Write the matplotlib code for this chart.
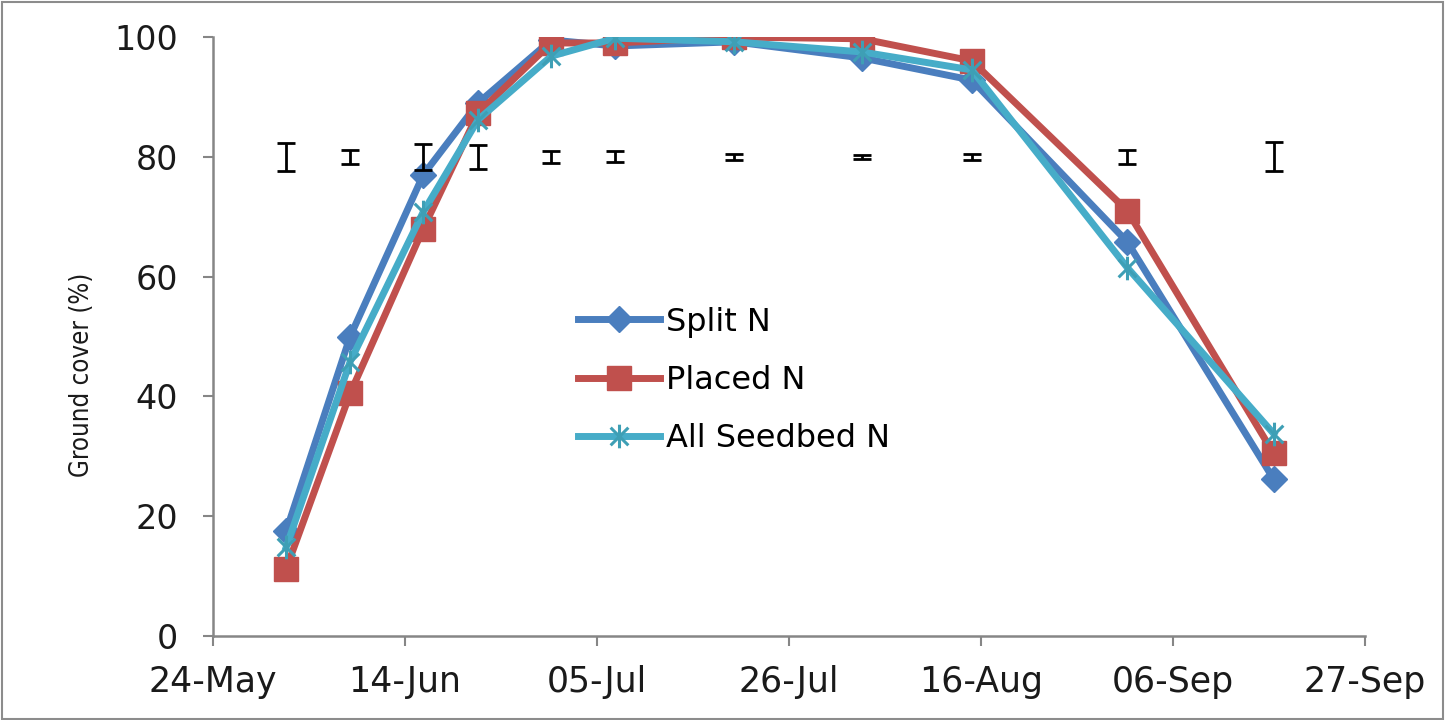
import datetime as dt
import numpy as np
import matplotlib
matplotlib.use("Agg")
import matplotlib.pyplot as plt
import matplotlib.dates as mdates
from matplotlib.path import Path
from matplotlib.patches import Rectangle

# Sampling dates (2012 season)
sample_dates = ["01-Jun", "08-Jun", "16-Jun", "22-Jun", "30-Jun", "07-Jul",
                "20-Jul", "03-Aug", "15-Aug", "01-Sep", "17-Sep"]

split_n = [17.5, 50.0, 77.0, 89.0, 99.5, 98.5, 99.2, 96.5, 92.8, 65.8, 26.2]
placed_n = [11.2, 40.5, 68.0, 87.3, 99.0, 99.0, 100.0, 99.7, 96.0, 71.0, 30.5]
seedbed_n = [14.8, 45.8, 70.8, 86.2, 96.8, 99.8, 99.2, 97.5, 94.5, 61.5, 33.8]

# Half-width of the LSD bars drawn at y = 80
lsd_half = [2.3, 1.2, 2.2, 2.0, 1.0, 0.9, 0.5, 0.3, 0.5, 1.2, 2.4]
lsd_level = 80

series_labels = ["Split N", "Placed N", "All Seedbed N"]
tick_labels = ["24-May", "14-Jun", "05-Jul", "26-Jul", "16-Aug", "06-Sep", "27-Sep"]
y_ticks = [0, 20, 40, 60, 80, 100]

YEAR = 2012
def to_date(s):
    return dt.datetime.strptime(f"{s}-{YEAR}", "%d-%b-%Y")

x = [to_date(s) for s in sample_dates]
x_ticks = [to_date(s) for s in tick_labels]

# Asterisk marker: vertical bar plus an X
star_path = Path(
    [(0, -1), (0, 1), (-0.75, -0.75), (0.75, 0.75), (-0.75, 0.75), (0.75, -0.75)],
    [Path.MOVETO, Path.LINETO, Path.MOVETO, Path.LINETO, Path.MOVETO, Path.LINETO],
)

blue = "#4A7EBE"
red = "#C0504D"
cyan = "#46ACC8"
grey = "#868686"

fig = plt.figure(figsize=(14.45, 7.2), dpi=100)
ax = fig.add_axes([213 / 1445, 84 / 720, 1152 / 1445, 599 / 720])

lw = 5.0
ax.plot(x, split_n, color=blue, lw=lw, marker="D", ms=13, mfc=blue, mec=blue,
        label=series_labels[0], zorder=3)
ax.plot(x, placed_n, color=red, lw=lw, marker="s", ms=17, mfc=red, mec=red,
        label=series_labels[1], zorder=4)
ax.plot(x, seedbed_n, color=cyan, lw=lw, marker=star_path, ms=17, mew=2.2,
        mec="#3E9FB5", label=series_labels[2], zorder=5)

ax.errorbar(x, [lsd_level] * len(x), yerr=lsd_half, fmt="none", ecolor="black",
            elinewidth=2.0, capsize=6.5, capthick=2.0, zorder=6)

ax.set_xlim(x_ticks[0], x_ticks[-1])
ax.set_ylim(0, 100)
ax.set_xticks(x_ticks)
ax.xaxis.set_major_formatter(mdates.DateFormatter("%d-%b"))
ax.set_yticks(y_ticks)

for side in ("top", "right"):
    ax.spines[side].set_visible(False)
for side in ("left", "bottom"):
    ax.spines[side].set_color(grey)
    ax.spines[side].set_linewidth(1.8)

ax.tick_params(axis="both", direction="out", length=7, width=1.5, color=grey,
               labelcolor="#1a1a1a")
ax.tick_params(axis="x", pad=14)
ax.tick_params(axis="y", pad=18)
for lab in ax.get_xticklabels():
    lab.set_fontfamily("DejaVu Sans")
    lab.set_fontsize(25)
for lab in ax.get_yticklabels():
    lab.set_fontfamily("DejaVu Sans")
    lab.set_fontsize(24)

ax.set_ylabel("Ground cover (%)", fontfamily="DejaVu Sans", fontstretch="condensed",
              fontsize=18.5, color="#1a1a1a")
ax.yaxis.set_label_coords(-0.102, 0.436)

leg = ax.legend(loc="center left", bbox_to_anchor=(0.317, 0.427), frameon=False,
                prop={"family": "DejaVu Sans", "size": 23}, handlelength=2.55,
                handletextpad=0.2, labelspacing=0.85, borderpad=0,
                borderaxespad=0)

# Outer chart border
fig.patches.append(Rectangle((0.0015, 0.002), 0.997, 0.995, transform=fig.transFigure,
                             fill=False, edgecolor="#8c8c8c", linewidth=1.5))

fig.savefig("out.png", dpi=100)
